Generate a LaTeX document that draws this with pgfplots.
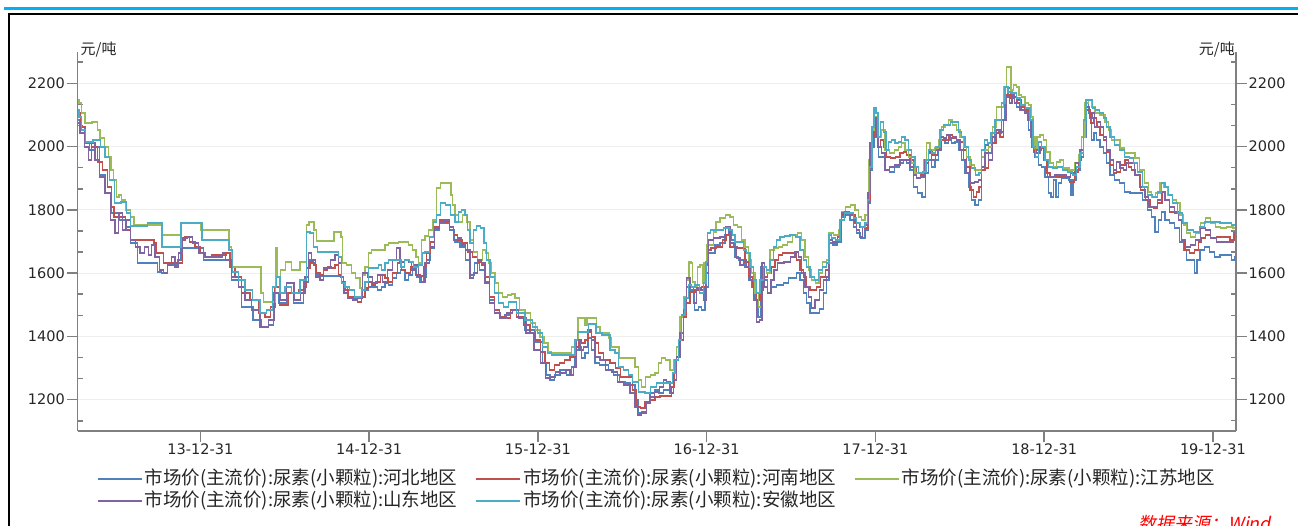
\documentclass[border=0pt]{standalone}
\usepackage{fontspec}
\setmainfont{Noto Sans CJK SC}
\newfontfamily\numfont{DejaVu Sans}
\newfontfamily\srcfont{Noto Sans CJK SC}[FakeSlant=0.2]
\usepackage{pgfplots}
\pgfplotsset{compat=1.18}

\definecolor{hb}{RGB}{79,129,189}
\definecolor{hn}{RGB}{192,80,77}
\definecolor{js}{RGB}{155,187,89}
\definecolor{sd}{RGB}{128,100,162}
\definecolor{ah}{RGB}{75,172,198}
\definecolor{topbar}{RGB}{0,176,240}
\definecolor{axisgray}{RGB}{128,128,128}
\definecolor{gridgray}{RGB}{238,238,238}
\definecolor{labelblack}{RGB}{38,38,38}

\pgfplotsset{
  urea/.style={
    at={(77.5pt,94.7pt)}, anchor=south west,
    scale only axis, width=1158.5pt, height=379.6pt,
    xmin=2013.272, xmax=2020.136, ymin=1100, ymax=2300,
    axis line style={draw=axisgray, line width=1.8pt},
    ytick={1000,1200,...,2400}, minor y tick num=2,
    tick align=outside, major tick length=11pt, minor tick length=5pt,
    tick style={draw=axisgray, line width=1.5pt},
    /pgf/number format/1000 sep={},
    /pgf/number format/assume math mode=true,
    scaled ticks=false,
    clip mode=individual,
    ticklabel style={font=\numfont\fontsize{14.5}{16}\selectfont, text=labelblack, inner sep=1.5pt},
  },
}

\begin{document}
\begin{tikzpicture}[x=1pt,y=1pt]
\useasboundingbox (0,0) rectangle (1298,526);
\fill[topbar] (4,515.7) rectangle (1310,519.3);
\draw[black, line width=2pt] (9.3,-10) -- (9.3,511.7) -- (1310,511.7);

\begin{axis}[urea,
  axis x line*=bottom, axis y line*=left,
  xtick={2013,...,2021}, minor x tick num=3,
  xticklabel={\pgfmathtruncatemacro\yr{round(\tick)-2001}\yr-12-31},
  minor y tick style={xshift=5pt},
  ymajorgrids, major grid style={draw=gridgray, line width=1pt},
  legend columns=3,
  legend style={draw=none, fill=none, at={(0.5,-0.0967)}, anchor=north,
    font=\fontsize{18.5}{20}\selectfont, text=labelblack,
    /tikz/every even column/.append style={column sep=16pt},
    nodes={inner xsep=2pt, inner ysep=0pt, text height=14pt, text depth=4pt},
    row sep=4pt},
  legend image code/.code={\draw[#1] (0pt,0pt) -- (44pt,0pt);},
  every axis plot/.append style={line width=1.8pt, const plot mark mid},
]
\addplot[hb] coordinates {
(2013.275,2084) (2013.299,2062) (2013.328,2011) (2013.358,1989) (2013.387,1999) (2013.417,1910) (2013.453,1853) (2013.494,1790) (2013.541,1768) (2013.571,1746) (2013.601,1695) (2013.624,1695) (2013.630,1632) (2013.743,1632) (2013.749,1604) (2013.790,1600) (2013.820,1626) (2013.850,1626) (2013.879,1642) (2013.891,1679) (2014.009,1679) (2014.027,1642) (2014.164,1642) (2014.205,1578) (2014.282,1493) (2014.341,1452) (2014.383,1430) (2014.424,1436) (2014.442,1537) (2014.483,1505) (2014.543,1537) (2014.561,1505) (2014.590,1505)
(2014.632,1572) (2014.649,1642) (2014.667,1632) (2014.697,1594) (2014.721,1591) (2014.827,1591) (2014.839,1588) (2014.857,1556) (2014.886,1525) (2014.916,1521) (2014.957,1525) (2014.987,1547) (2015.005,1556) (2015.034,1556) (2015.064,1547) (2015.082,1556) (2015.106,1569) (2015.123,1563) (2015.153,1585) (2015.171,1600) (2015.200,1610) (2015.224,1578) (2015.242,1594) (2015.271,1616) (2015.289,1588) (2015.313,1572) (2015.331,1588) (2015.349,1642) (2015.372,1679) (2015.402,1736) (2015.432,1758) (2015.461,1758) (2015.491,1736) (2015.520,1699) (2015.556,1683) (2015.586,1642) (2015.609,1594) (2015.639,1632) (2015.669,1610) (2015.698,1572) (2015.728,1515) (2015.758,1483) (2015.787,1461) (2015.823,1468) (2015.852,1483) (2015.894,1461) (2015.953,1420) (2016.012,1382)
(2016.042,1316) (2016.059,1278) (2016.083,1262) (2016.113,1278) (2016.148,1294) (2016.190,1278) (2016.207,1303) (2016.231,1357) (2016.249,1366) (2016.267,1332) (2016.290,1348) (2016.308,1395) (2016.326,1357) (2016.350,1316) (2016.379,1310) (2016.409,1310) (2016.427,1294) (2016.468,1278) (2016.498,1256) (2016.533,1253) (2016.563,1246) (2016.587,1199) (2016.598,1158) (2016.634,1161) (2016.652,1190) (2016.676,1221) (2016.705,1231) (2016.723,1221) (2016.765,1231) (2016.794,1240) (2016.812,1262) (2016.830,1335) (2016.854,1411) (2016.871,1483) (2016.889,1556) (2016.913,1547) (2016.942,1483) (2016.960,1493) (2016.978,1483) (2017.002,1556) (2017.019,1664) (2017.037,1664) (2017.061,1689) (2017.097,1695) (2017.120,1721) (2017.138,1736) (2017.156,1705) (2017.180,1651) (2017.197,1642) (2017.215,1642) (2017.239,1619) (2017.257,1578) (2017.274,1556)
(2017.298,1515) (2017.310,1461) (2017.327,1619) (2017.345,1578) (2017.375,1537) (2017.393,1556) (2017.434,1563) (2017.476,1569) (2017.493,1585) (2017.523,1585) (2017.541,1600) (2017.564,1578) (2017.582,1537) (2017.600,1505) (2017.624,1474) (2017.653,1474) (2017.683,1487) (2017.701,1537) (2017.719,1578) (2017.730,1695) (2017.760,1689) (2017.790,1699) (2017.807,1777) (2017.837,1784) (2017.861,1768) (2017.878,1746) (2017.896,1727) (2017.926,1711) (2017.950,1736) (2017.962,1822) (2017.973,1926) (2017.985,1999) (2017.997,2062) (2018.009,2030) (2018.027,1967) (2018.044,1967) (2018.068,1926) (2018.098,1920) (2018.127,1936) (2018.157,1948) (2018.175,1958) (2018.193,1948) (2018.216,1926) (2018.234,1872) (2018.264,1853) (2018.287,1841) (2018.305,1916) (2018.323,1958) (2018.341,1936) (2018.364,1958) (2018.382,1999) (2018.400,2021) (2018.424,2011) (2018.441,2021) (2018.459,2011) (2018.483,2015) (2018.501,1989) (2018.518,1958) (2018.542,1916) (2018.560,1872) (2018.578,1831) (2018.601,1815) (2018.619,1831)
(2018.637,1926) (2018.661,2005) (2018.678,1980) (2018.696,2011) (2018.720,2053) (2018.738,2043) (2018.755,2084) (2018.779,2157) (2018.791,2185) (2018.809,2154) (2018.826,2157) (2018.844,2125) (2018.868,2116) (2018.897,2106) (2018.915,2053) (2018.933,1999) (2018.957,1967) (2018.975,1942) (2018.992,1936) (2019.016,1904) (2019.034,1853) (2019.046,1841) (2019.063,1894) (2019.075,1841) (2019.093,1885) (2019.111,1901) (2019.134,1901) (2019.152,1894) (2019.164,1847) (2019.176,1894) (2019.200,1926) (2019.223,1967) (2019.241,2030) (2019.253,2138) (2019.271,2106) (2019.289,2021) (2019.300,2043) (2019.318,2021) (2019.342,1999) (2019.360,1980) (2019.377,1948) (2019.401,1910) (2019.431,1894) (2019.460,1885) (2019.490,1856) (2019.526,1853) (2019.567,1853) (2019.597,1831) (2019.626,1800) (2019.644,1777) (2019.668,1730) (2019.686,1768) (2019.703,1793) (2019.727,1768) (2019.757,1758) (2019.786,1743) (2019.816,1699) (2019.834,1673) (2019.851,1642) (2019.881,1642) (2019.899,1600) (2019.911,1642) (2019.934,1673) (2019.964,1683) (2019.994,1667) (2020.024,1651) (2020.059,1657) (2020.101,1657) (2020.118,1642) (2020.136,1651)
};
\addlegendentry{市场价(主流价):尿素(小颗粒):河北地区}
\addplot[hn] coordinates {
(2013.275,2106) (2013.304,2062) (2013.334,2011) (2013.375,1999) (2013.405,1951) (2013.435,1926) (2013.464,1872) (2013.482,1809) (2013.494,1777) (2013.541,1777) (2013.571,1736) (2013.601,1705) (2013.719,1705) (2013.731,1695) (2013.743,1664) (2013.778,1664) (2013.784,1632) (2013.891,1632) (2013.897,1705) (2013.921,1714) (2013.950,1699) (2013.986,1683) (2014.009,1664) (2014.045,1651) (2014.086,1657) (2014.146,1657) (2014.164,1664) (2014.187,1619) (2014.223,1588) (2014.264,1537) (2014.323,1515) (2014.365,1474) (2014.401,1461) (2014.430,1493) (2014.454,1556) (2014.483,1499) (2014.561,1537) (2014.602,1547)
(2014.620,1556) (2014.638,1616) (2014.661,1635) (2014.679,1626) (2014.697,1600) (2014.721,1594) (2014.738,1610) (2014.768,1619) (2014.786,1616) (2014.809,1626) (2014.827,1594) (2014.845,1572) (2014.869,1547) (2014.886,1525) (2014.916,1525) (2014.946,1509) (2014.963,1525) (2014.987,1553) (2015.005,1572) (2015.023,1563) (2015.052,1572) (2015.082,1594) (2015.106,1585) (2015.123,1572) (2015.153,1600) (2015.183,1632) (2015.200,1610) (2015.230,1600) (2015.260,1619) (2015.289,1594) (2015.313,1591) (2015.331,1619) (2015.349,1664) (2015.372,1699) (2015.402,1746) (2015.432,1768) (2015.461,1762) (2015.491,1746) (2015.508,1721) (2015.538,1705) (2015.568,1695) (2015.598,1667) (2015.627,1651) (2015.657,1635) (2015.675,1626) (2015.698,1588) (2015.728,1525) (2015.758,1483) (2015.787,1461) (2015.823,1458) (2015.852,1483) (2015.894,1461) (2015.935,1436) (2015.971,1411) (2016.000,1389)
(2016.030,1351) (2016.053,1316) (2016.083,1294) (2016.113,1310) (2016.142,1316) (2016.172,1325) (2016.207,1335) (2016.231,1366) (2016.249,1389) (2016.267,1379) (2016.290,1389) (2016.308,1414) (2016.326,1398) (2016.350,1379) (2016.368,1348) (2016.409,1325) (2016.445,1316) (2016.474,1300) (2016.504,1272) (2016.545,1272) (2016.575,1231) (2016.593,1177) (2016.622,1174) (2016.646,1193) (2016.682,1199) (2016.705,1209) (2016.741,1212) (2016.782,1212) (2016.800,1240) (2016.812,1284) (2016.830,1335) (2016.854,1389) (2016.871,1461) (2016.889,1505) (2016.913,1540) (2016.948,1547) (2016.990,1556) (2017.002,1626) (2017.014,1673) (2017.037,1679) (2017.079,1683) (2017.108,1705) (2017.126,1721) (2017.150,1683) (2017.215,1679) (2017.239,1635) (2017.257,1588) (2017.286,1556)
(2017.304,1515) (2017.327,1547) (2017.345,1588) (2017.375,1600) (2017.393,1619) (2017.416,1642) (2017.434,1657) (2017.464,1664) (2017.523,1664) (2017.541,1642) (2017.564,1610) (2017.582,1588) (2017.600,1556) (2017.624,1547) (2017.641,1547) (2017.659,1556) (2017.689,1588) (2017.719,1610) (2017.730,1705) (2017.760,1699) (2017.790,1714) (2017.807,1784) (2017.837,1790) (2017.867,1784) (2017.890,1758) (2017.920,1746) (2017.950,1743) (2017.962,1831) (2017.973,1936) (2017.985,2030) (2017.997,2084) (2018.009,2062) (2018.021,1999) (2018.038,2021) (2018.056,1999) (2018.074,1967) (2018.104,1964) (2018.133,1967) (2018.157,1980) (2018.175,1983) (2018.193,1973) (2018.216,1958) (2018.234,1936) (2018.252,1916) (2018.282,1910) (2018.305,1948) (2018.323,1983) (2018.353,1973) (2018.382,1989) (2018.400,2021) (2018.424,2021) (2018.441,2037) (2018.471,2027) (2018.489,2021) (2018.513,2015) (2018.530,1989) (2018.548,1936) (2018.572,1863) (2018.590,1841) (2018.607,1857) (2018.619,1872)
(2018.637,1926) (2018.661,1932) (2018.678,1958) (2018.708,2011) (2018.726,2043) (2018.749,2030) (2018.767,2084) (2018.785,2163) (2018.809,2154) (2018.826,2157) (2018.844,2138) (2018.868,2125) (2018.897,2116) (2018.915,2084) (2018.933,2030) (2018.945,1989) (2018.975,1989) (2018.986,1995) (2019.004,1958) (2019.022,1916) (2019.046,1904) (2019.134,1904) (2019.164,1888) (2019.194,1920) (2019.212,1958) (2019.229,2030) (2019.247,2116) (2019.265,2116) (2019.283,2075) (2019.300,2090) (2019.318,2062) (2019.342,2037) (2019.360,2021) (2019.377,1983) (2019.401,1942) (2019.419,1916) (2019.437,1920) (2019.466,1942) (2019.490,1958) (2019.508,1936) (2019.526,1926) (2019.555,1910) (2019.585,1863) (2019.615,1831) (2019.638,1809) (2019.656,1806) (2019.686,1822) (2019.709,1857) (2019.727,1831) (2019.757,1793) (2019.786,1790) (2019.804,1768) (2019.822,1705) (2019.846,1673) (2019.875,1664) (2019.905,1673) (2019.923,1699) (2019.940,1711) (2019.970,1721) (2020.000,1711) (2020.041,1714) (2020.082,1714) (2020.118,1705) (2020.136,1721)
};
\addlegendentry{市场价(主流价):尿素(小颗粒):河南地区}
\addplot[js] coordinates {
(2013.275,2147) (2013.287,2138) (2013.304,2106) (2013.328,2075) (2013.387,2078) (2013.393,2053) (2013.417,2027) (2013.447,1999) (2013.464,1967) (2013.476,1926) (2013.494,1894) (2013.512,1841) (2013.524,1847) (2013.541,1831) (2013.571,1800) (2013.601,1777) (2013.613,1752) (2013.772,1752) (2013.778,1721) (2013.879,1721) (2013.885,1758) (2013.998,1758) (2014.009,1736) (2014.164,1736) (2014.175,1683) (2014.193,1619) (2014.353,1619) (2014.365,1537) (2014.383,1509) (2014.442,1509) (2014.448,1679) (2014.460,1588) (2014.489,1610) (2014.519,1635) (2014.561,1610) (2014.620,1635) (2014.638,1752)
(2014.649,1762) (2014.667,1762) (2014.679,1736) (2014.697,1702) (2014.786,1702) (2014.798,1730) (2014.827,1730) (2014.839,1714) (2014.845,1632) (2014.886,1626) (2014.904,1600) (2014.934,1585) (2014.957,1553) (2014.963,1594) (2014.987,1619) (2015.005,1664) (2015.023,1673) (2015.082,1673) (2015.106,1689) (2015.123,1695) (2015.165,1695) (2015.183,1699) (2015.224,1699) (2015.242,1689) (2015.271,1673) (2015.283,1651) (2015.301,1632) (2015.319,1705) (2015.343,1717) (2015.360,1736) (2015.390,1768) (2015.408,1869) (2015.437,1885) (2015.479,1885) (2015.491,1847) (2015.497,1815) (2015.520,1784) (2015.538,1762) (2015.568,1784) (2015.586,1762) (2015.609,1705) (2015.627,1667) (2015.657,1642) (2015.687,1673) (2015.698,1664) (2015.716,1632) (2015.734,1600) (2015.758,1569) (2015.775,1537) (2015.805,1525) (2015.834,1531) (2015.852,1534) (2015.876,1521) (2015.906,1483) (2015.941,1474) (2015.971,1442) (2016.000,1420) (2016.024,1398)
(2016.048,1379) (2016.071,1351) (2016.089,1348) (2016.190,1348) (2016.207,1366) (2016.231,1389) (2016.243,1458) (2016.267,1458) (2016.290,1436) (2016.296,1458) (2016.338,1458) (2016.356,1430) (2016.379,1411) (2016.415,1411) (2016.427,1395) (2016.445,1366) (2016.474,1366) (2016.486,1332) (2016.563,1332) (2016.587,1303) (2016.605,1262) (2016.622,1240) (2016.652,1272) (2016.682,1278) (2016.705,1284) (2016.723,1316) (2016.741,1332) (2016.770,1325) (2016.794,1294) (2016.812,1325) (2016.830,1366) (2016.854,1461) (2016.871,1525) (2016.889,1578) (2016.901,1635) (2016.913,1632) (2016.919,1572) (2016.942,1556) (2016.948,1619) (2016.972,1626) (2016.978,1569) (2016.990,1632) (2017.008,1689) (2017.031,1689) (2017.049,1730) (2017.061,1762) (2017.097,1774) (2017.126,1784) (2017.150,1777) (2017.168,1752) (2017.197,1746) (2017.215,1705) (2017.239,1683) (2017.257,1642) (2017.274,1600) (2017.298,1537) (2017.316,1493)
(2017.333,1578) (2017.345,1619) (2017.363,1600) (2017.387,1673) (2017.416,1679) (2017.434,1683) (2017.464,1689) (2017.493,1699) (2017.523,1721) (2017.553,1727) (2017.570,1705) (2017.594,1651) (2017.612,1610) (2017.630,1578) (2017.659,1569) (2017.671,1600) (2017.701,1635) (2017.719,1642) (2017.730,1727) (2017.772,1721) (2017.790,1736) (2017.807,1793) (2017.837,1809) (2017.867,1815) (2017.890,1800) (2017.908,1777) (2017.926,1768) (2017.950,1784) (2017.956,1853) (2017.967,1958) (2017.985,2053) (2017.997,2094) (2018.009,2062) (2018.027,2030) (2018.044,2053) (2018.068,1989) (2018.098,1980) (2018.127,1989) (2018.145,1999) (2018.163,2011) (2018.187,1989) (2018.204,1967) (2018.222,1948) (2018.246,1916) (2018.276,1916) (2018.293,1958) (2018.311,2011) (2018.335,1989) (2018.364,1995) (2018.382,2021) (2018.400,2062) (2018.424,2068) (2018.441,2084) (2018.471,2068) (2018.489,2053) (2018.513,2030) (2018.530,1999) (2018.548,1967) (2018.572,1942) (2018.601,1926) (2018.619,1926)
(2018.637,1967) (2018.661,1989) (2018.678,1999) (2018.708,2062) (2018.726,2125) (2018.749,2125) (2018.767,2188) (2018.785,2252) (2018.797,2252) (2018.809,2179) (2018.826,2195) (2018.844,2188) (2018.856,2163) (2018.874,2157) (2018.897,2138) (2018.915,2132) (2018.927,2094) (2018.939,2030) (2018.951,1995) (2018.963,2030) (2018.986,2037) (2019.004,2021) (2019.022,1983) (2019.046,1948) (2019.063,1936) (2019.081,1951) (2019.105,1958) (2019.123,1932) (2019.170,1926) (2019.194,1948) (2019.212,1973) (2019.229,2030) (2019.253,2138) (2019.271,2147) (2019.289,2125) (2019.312,2106) (2019.348,2100) (2019.372,2078) (2019.389,2053) (2019.407,2021) (2019.437,2021) (2019.460,1995) (2019.490,1980) (2019.526,1980) (2019.549,1964) (2019.579,1926) (2019.609,1885) (2019.626,1856) (2019.644,1841) (2019.674,1853) (2019.697,1885) (2019.715,1872) (2019.745,1847) (2019.774,1831) (2019.792,1822) (2019.816,1784) (2019.834,1752) (2019.851,1727) (2019.881,1714) (2019.911,1727) (2019.940,1758) (2019.970,1774) (2020.000,1758) (2020.029,1746) (2020.059,1743) (2020.101,1746) (2020.136,1743)
};
\addlegendentry{市场价(主流价):尿素(小颗粒):江苏地区}
\addplot[sd] coordinates {
(2013.275,2075) (2013.299,2043) (2013.328,1999) (2013.346,1958) (2013.364,2011) (2013.387,1958) (2013.417,1904) (2013.453,1853) (2013.482,1768) (2013.506,1727) (2013.524,1790) (2013.553,1736) (2013.571,1768) (2013.601,1705) (2013.630,1683) (2013.654,1664) (2013.684,1683) (2013.701,1657) (2013.719,1689) (2013.743,1651) (2013.772,1610) (2013.790,1600) (2013.820,1626) (2013.838,1651) (2013.861,1619) (2013.879,1664) (2013.909,1711) (2013.938,1714) (2013.968,1695) (2014.009,1664) (2014.045,1651) (2014.128,1651) (2014.134,1664) (2014.164,1642) (2014.205,1588) (2014.246,1556) (2014.282,1515) (2014.323,1483) (2014.383,1430) (2014.424,1452) (2014.454,1537) (2014.489,1515) (2014.531,1569) (2014.578,1515) (2014.608,1537)
(2014.632,1588) (2014.649,1664) (2014.667,1642) (2014.697,1588) (2014.721,1578) (2014.738,1616) (2014.756,1616) (2014.786,1642) (2014.809,1657) (2014.827,1632) (2014.845,1569) (2014.857,1537) (2014.886,1521) (2014.916,1515) (2014.946,1521) (2014.975,1600) (2015.005,1588) (2015.034,1569) (2015.064,1594) (2015.094,1572) (2015.123,1610) (2015.153,1642) (2015.171,1679) (2015.194,1635) (2015.224,1642) (2015.242,1635) (2015.260,1610) (2015.283,1626) (2015.301,1588) (2015.319,1572) (2015.343,1632) (2015.372,1683) (2015.402,1743) (2015.432,1762) (2015.461,1768) (2015.491,1746) (2015.508,1705) (2015.538,1711) (2015.556,1689) (2015.586,1673) (2015.609,1585) (2015.627,1600) (2015.657,1642) (2015.675,1632) (2015.698,1569) (2015.728,1505) (2015.758,1474) (2015.793,1458) (2015.834,1474) (2015.864,1483) (2015.906,1458) (2015.953,1411) (2016.000,1357)
(2016.030,1316) (2016.059,1268) (2016.089,1272) (2016.119,1287) (2016.148,1284) (2016.178,1294) (2016.202,1278) (2016.219,1303) (2016.237,1389) (2016.261,1357) (2016.279,1366) (2016.308,1420) (2016.326,1389) (2016.350,1335) (2016.385,1325) (2016.415,1294) (2016.456,1287) (2016.486,1256) (2016.527,1246) (2016.563,1221) (2016.587,1177) (2016.593,1152) (2016.634,1158) (2016.652,1190) (2016.676,1209) (2016.705,1224) (2016.735,1240) (2016.753,1262) (2016.770,1256) (2016.794,1221) (2016.812,1262) (2016.830,1335) (2016.854,1411) (2016.871,1483) (2016.889,1585) (2016.913,1556) (2016.930,1505) (2016.948,1553) (2016.972,1547) (2016.990,1515) (2017.002,1600) (2017.019,1705) (2017.061,1711) (2017.097,1714) (2017.126,1746) (2017.150,1695) (2017.168,1683) (2017.185,1648) (2017.209,1626) (2017.227,1642) (2017.245,1619) (2017.268,1578) (2017.286,1515) (2017.304,1446)
(2017.321,1452) (2017.333,1632) (2017.351,1556) (2017.369,1537) (2017.393,1578) (2017.405,1610) (2017.434,1632) (2017.482,1635) (2017.511,1651) (2017.535,1667) (2017.553,1651) (2017.570,1600) (2017.594,1556) (2017.612,1525) (2017.630,1490) (2017.653,1515) (2017.683,1547) (2017.701,1578) (2017.719,1588) (2017.730,1705) (2017.760,1695) (2017.790,1705) (2017.807,1790) (2017.831,1793) (2017.861,1784) (2017.878,1768) (2017.896,1736) (2017.914,1714) (2017.932,1746) (2017.950,1752) (2017.962,1853) (2017.973,2011) (2017.985,2062) (2017.997,2090) (2018.009,2030) (2018.027,1999) (2018.044,1980) (2018.068,1926) (2018.098,1936) (2018.127,1942) (2018.163,1958) (2018.193,1958) (2018.216,1936) (2018.234,1910) (2018.252,1901) (2018.282,1904) (2018.305,1958) (2018.323,1980) (2018.341,1958) (2018.370,1989) (2018.394,2030) (2018.412,2027) (2018.430,2037) (2018.453,2027) (2018.471,2030) (2018.489,2021) (2018.513,1989) (2018.530,1958) (2018.548,1916) (2018.572,1885) (2018.601,1888) (2018.619,1894)
(2018.637,1936) (2018.661,1980) (2018.678,1958) (2018.708,2030) (2018.726,2053) (2018.749,2046) (2018.767,2084) (2018.785,2157) (2018.803,2138) (2018.815,2163) (2018.832,2138) (2018.850,2147) (2018.874,2116) (2018.897,2109) (2018.909,2084) (2018.927,2030) (2018.945,1983) (2018.963,1980) (2018.986,1999) (2019.004,1958) (2019.034,1904) (2019.093,1910) (2019.123,1910) (2019.140,1904) (2019.170,1916) (2019.200,1948) (2019.223,1989) (2019.241,2084) (2019.259,2125) (2019.277,2090) (2019.289,2106) (2019.306,2062) (2019.324,2078) (2019.342,2062) (2019.360,2030) (2019.377,1989) (2019.401,1958) (2019.419,1926) (2019.437,1951) (2019.460,1932) (2019.478,1926) (2019.496,1948) (2019.520,1948) (2019.549,1910) (2019.579,1872) (2019.609,1841) (2019.626,1809) (2019.656,1809) (2019.686,1831) (2019.703,1857) (2019.727,1831) (2019.757,1809) (2019.786,1793) (2019.804,1768) (2019.822,1705) (2019.851,1683) (2019.881,1689) (2019.911,1705) (2019.940,1743) (2019.970,1736) (2020.000,1711) (2020.041,1699) (2020.112,1699) (2020.130,1727) (2020.136,1721)
};
\addlegendentry{市场价(主流价):尿素(小颗粒):山东地区}
\addplot[ah] coordinates {
(2013.275,2116) (2013.287,2094) (2013.304,2053) (2013.334,2015) (2013.393,2021) (2013.423,1999) (2013.447,1967) (2013.476,1894) (2013.506,1822) (2013.553,1825) (2013.571,1790) (2013.601,1749) (2013.684,1749) (2013.690,1758) (2013.772,1758) (2013.778,1683) (2013.879,1683) (2013.891,1758) (2014.009,1758) (2014.015,1705) (2014.164,1705) (2014.175,1673) (2014.205,1604) (2014.246,1578) (2014.282,1547) (2014.335,1515) (2014.371,1474) (2014.412,1483) (2014.442,1556) (2014.460,1588) (2014.483,1537) (2014.519,1556) (2014.561,1537) (2014.620,1578) (2014.638,1730)
(2014.661,1727) (2014.679,1683) (2014.709,1667) (2014.809,1667) (2014.827,1651) (2014.845,1569) (2014.869,1556) (2014.898,1547) (2014.928,1525) (2014.946,1525) (2014.963,1547) (2014.987,1572) (2015.005,1616) (2015.046,1616) (2015.064,1626) (2015.082,1610) (2015.106,1632) (2015.123,1642) (2015.183,1642) (2015.194,1619) (2015.224,1642) (2015.254,1635) (2015.271,1619) (2015.313,1626) (2015.319,1664) (2015.343,1667) (2015.372,1714) (2015.390,1762) (2015.408,1784) (2015.437,1822) (2015.467,1815) (2015.497,1784) (2015.520,1762) (2015.538,1793) (2015.556,1800) (2015.580,1784) (2015.586,1736) (2015.609,1695) (2015.627,1736) (2015.645,1749) (2015.675,1743) (2015.687,1695) (2015.704,1642) (2015.728,1588) (2015.758,1537) (2015.775,1505) (2015.817,1493) (2015.834,1509) (2015.852,1509) (2015.894,1474) (2015.953,1452) (2015.983,1430) (2016.012,1411)
(2016.042,1366) (2016.071,1348) (2016.089,1341) (2016.207,1341) (2016.231,1389) (2016.237,1414) (2016.290,1414) (2016.308,1439) (2016.338,1439) (2016.350,1411) (2016.409,1404) (2016.445,1357) (2016.468,1348) (2016.486,1303) (2016.527,1294) (2016.545,1278) (2016.575,1256) (2016.616,1224) (2016.652,1221) (2016.682,1240) (2016.723,1253) (2016.794,1253) (2016.800,1284) (2016.824,1325) (2016.842,1389) (2016.859,1468) (2016.883,1521) (2016.901,1563) (2016.919,1556) (2016.942,1563) (2016.972,1537) (2016.990,1569) (2017.002,1635) (2017.008,1727) (2017.037,1736) (2017.079,1736) (2017.120,1743) (2017.150,1736) (2017.156,1721) (2017.180,1699) (2017.209,1699) (2017.227,1673) (2017.245,1664) (2017.268,1619) (2017.286,1578) (2017.304,1537)
(2017.327,1578) (2017.345,1619) (2017.363,1610) (2017.387,1642) (2017.405,1683) (2017.422,1705) (2017.446,1714) (2017.476,1717) (2017.511,1721) (2017.541,1714) (2017.564,1673) (2017.582,1642) (2017.600,1619) (2017.624,1588) (2017.653,1578) (2017.671,1610) (2017.701,1619) (2017.719,1632) (2017.730,1721) (2017.748,1711) (2017.778,1705) (2017.801,1768) (2017.831,1790) (2017.861,1790) (2017.878,1774) (2017.896,1758) (2017.926,1746) (2017.950,1758) (2017.956,1831) (2017.973,1936) (2017.985,2062) (2017.997,2122) (2018.009,2106) (2018.021,2030) (2018.038,2078) (2018.056,2046) (2018.068,1989) (2018.086,2015) (2018.104,2021) (2018.127,2011) (2018.145,2015) (2018.163,2030) (2018.187,2021) (2018.204,1989) (2018.222,1967) (2018.246,1936) (2018.264,1916) (2018.293,1920) (2018.305,1958) (2018.323,1989) (2018.341,1980) (2018.370,1999) (2018.394,2053) (2018.412,2068) (2018.430,2068) (2018.459,2078) (2018.483,2078) (2018.501,2046) (2018.518,2030) (2018.542,1999) (2018.560,1958) (2018.578,1932) (2018.607,1910) (2018.619,1916)
(2018.637,1989) (2018.655,2021) (2018.672,2011) (2018.696,2043) (2018.720,2084) (2018.738,2084) (2018.755,2138) (2018.779,2188) (2018.791,2173) (2018.826,2169) (2018.844,2154) (2018.874,2132) (2018.903,2122) (2018.927,2084) (2018.939,1999) (2018.957,1967) (2018.975,2015) (2018.992,1999) (2019.016,1958) (2019.034,1936) (2019.063,1932) (2019.093,1936) (2019.123,1926) (2019.152,1920) (2019.182,1910) (2019.200,1936) (2019.223,1980) (2019.241,2084) (2019.253,2147) (2019.277,2147) (2019.294,2122) (2019.312,2116) (2019.342,2106) (2019.360,2090) (2019.377,2062) (2019.401,2030) (2019.431,2005) (2019.460,1989) (2019.490,1967) (2019.520,1964) (2019.537,1948) (2019.567,1920) (2019.597,1872) (2019.626,1847) (2019.656,1841) (2019.686,1857) (2019.703,1885) (2019.727,1872) (2019.745,1847) (2019.774,1822) (2019.804,1790) (2019.834,1758) (2019.863,1736) (2019.905,1730) (2019.934,1746) (2019.964,1762) (2020.000,1762) (2020.082,1758) (2020.136,1752)
};
\addlegendentry{市场价(主流价):尿素(小颗粒):安徽地区}
\node[anchor=west, inner sep=0pt, font=\fontsize{15}{16}\selectfont, text=labelblack]
  at (rel axis cs:0,1) [xshift=3pt, yshift=2pt] {元/吨};
\end{axis}

\begin{axis}[urea,
  axis x line=none, axis y line*=right,
  minor y tick style={xshift=-5pt},
]
\node[anchor=east, inner sep=0pt, font=\fontsize{15}{16}\selectfont, text=labelblack]
  at (rel axis cs:1,1) [xshift=-1pt, yshift=2pt] {元/吨};
\end{axis}

\node[anchor=base west, inner sep=0pt, text=red, font=\srcfont\fontsize{18}{20}\selectfont]
  at (1138,-5) {数据来源：Wind};
\end{tikzpicture}
\end{document}
